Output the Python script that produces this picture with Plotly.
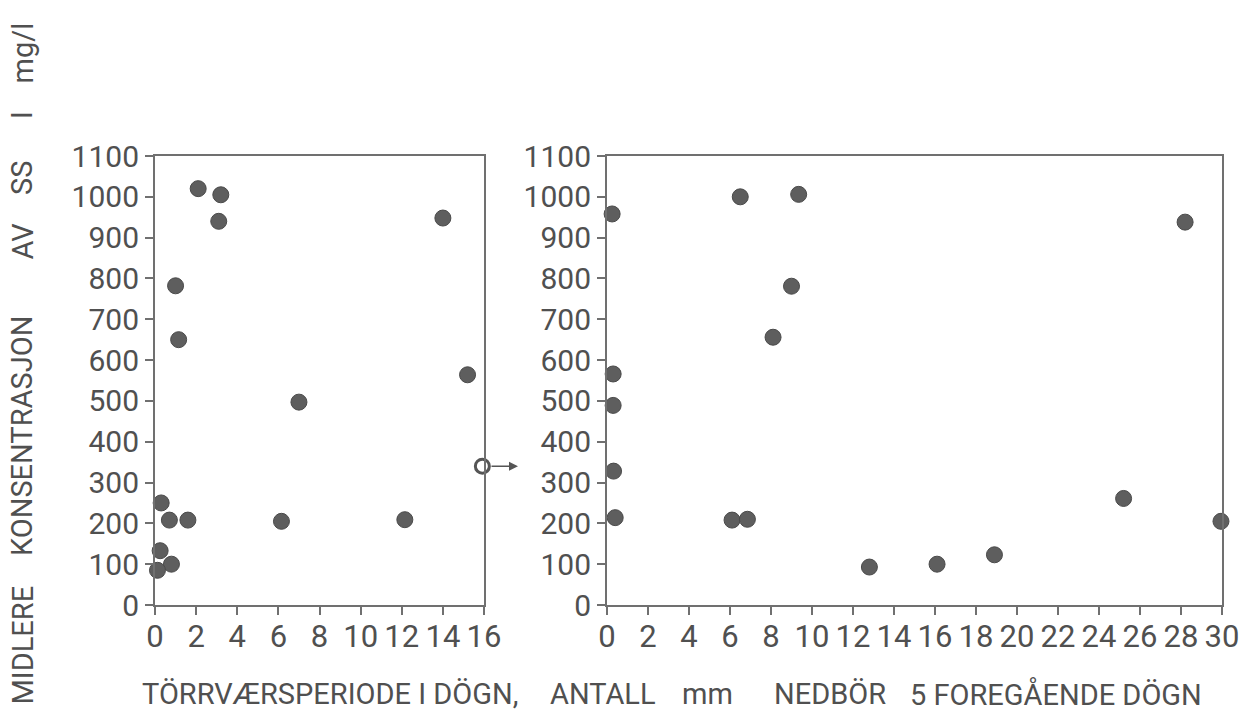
import plotly.graph_objects as go

# Left panel: dry-weather period (days) vs mean SS concentration (mg/l)
dry_days = [2.1, 3.2, 3.1, 14.0, 1.0, 1.15, 7.0, 15.2, 0.3, 0.7, 1.6, 6.15, 12.15, 0.25, 0.8, 0.12]
dry_conc = [1020, 1005, 940, 948, 782, 650, 497, 564, 250, 208, 208, 205, 209, 133, 100, 85]
# point beyond the axis (marked with arrow)
dry_out_days = [15.92]
dry_out_conc = [340]

# Right panel: mm precipitation previous 5 days vs mean SS concentration
rain_mm = [0.25, 6.5, 9.35, 28.2, 9.0, 8.1, 0.3, 0.3, 0.32, 0.4, 6.1, 6.85, 12.8, 16.1, 18.9, 25.2, 29.95]
rain_conc = [958, 1000, 1006, 938, 781, 656, 566, 489, 328, 214, 208, 210, 93, 100, 123, 261, 205]

y_ticks = list(range(0, 1101, 100))
x_left_ticks = list(range(0, 17, 2))
x_right_ticks = list(range(0, 31, 2))

W, H = 1255, 719
TXT = "#505050"
LINE = "#707070"
PT = "#5e5e5e"
YTICKFONT = dict(family="Roboto, sans-serif", size=30, color=TXT)
XTICKFONT = dict(family="Roboto, sans-serif", size=31, color=TXT)
TITLEFONT = dict(family="Roboto, sans-serif", size=29, color=TXT)

def px_x(p):
    return p / W

def px_y(p):
    return (H - p) / H

fig = go.Figure()
marker = dict(size=16, color=PT, line=dict(color="#4a4a4a", width=1))
fig.add_trace(go.Scatter(x=dry_days, y=dry_conc, mode="markers", marker=marker,
                         xaxis="x", yaxis="y", cliponaxis=False, showlegend=False))
fig.add_trace(go.Scatter(x=dry_out_days, y=dry_out_conc, mode="markers",
                         marker=dict(size=14, color="white", line=dict(color="#555555", width=3)),
                         xaxis="x", yaxis="y", cliponaxis=False, showlegend=False))
fig.add_trace(go.Scatter(x=rain_mm, y=rain_conc, mode="markers", marker=marker,
                         xaxis="x2", yaxis="y2", cliponaxis=False, showlegend=False))

common_axis = dict(showline=True, mirror=True, linecolor=LINE, linewidth=2,
                   showgrid=False, zeroline=False, ticks="outside", ticklen=8,
                   tickwidth=2, tickcolor=LINE,
                   automargin=False, tickangle=0)

fig.update_layout(
    width=W, height=H,
    margin=dict(l=0, r=0, t=0, b=0, pad=0),
    paper_bgcolor="white", plot_bgcolor="white",
    xaxis=dict(domain=[px_x(155), px_x(484)], range=[0, 16], tickvals=x_left_ticks,
               anchor="y", tickfont=XTICKFONT, ticklabelstandoff=-5, **common_axis),
    yaxis=dict(domain=[px_y(605), px_y(156)], range=[0, 1100], tickvals=y_ticks,
               anchor="x", tickfont=YTICKFONT, **common_axis),
    xaxis2=dict(domain=[px_x(607), px_x(1222)], range=[0, 30], tickvals=x_right_ticks,
                anchor="y2", tickfont=XTICKFONT, ticklabelstandoff=-5, **common_axis),
    yaxis2=dict(domain=[px_y(605), px_y(156)], range=[0, 1100], tickvals=y_ticks,
                anchor="x2", tickfont=YTICKFONT, **common_axis),
)

annotations = []
# arrow from the open point
annotations.append(dict(x=px_x(518), y=dry_out_conc[0], xref="paper", yref="y",
                        ax=-28, ay=0, axref="pixel", ayref="pixel", text="",
                        showarrow=True, arrowhead=2, arrowsize=1.2, arrowwidth=1.5,
                        arrowcolor="#555555"))

# bottom axis title (pieces)
for txt, xpix in [("TÖRRVÆRSPERIODE I DÖGN,", 140), ("ANTALL", 548), ("mm", 680),
                  ("NEDBÖR", 772), ("5 FOREGÅENDE DÖGN", 908)]:
    annotations.append(dict(x=px_x(xpix), y=px_y(694), xref="paper", yref="paper",
                            text=txt, showarrow=False, xanchor="left", yanchor="middle",
                            font=TITLEFONT))

# left vertical title (pieces, rotated)
for txt, ybottom in [("MIDLERE", 707), ("KONSENTRASJON", 558), ("AV", 262),
                     ("SS", 197), ("I", 121), ("mg/l", 86)]:
    annotations.append(dict(x=px_x(22), y=px_y(ybottom), xref="paper", yref="paper",
                            text=txt, showarrow=False, textangle=-90,
                            xanchor="center", yanchor="bottom", font=TITLEFONT))

fig.update_layout(annotations=annotations)
fig.write_html("out.html", config={"displayModeBar": False},
               post_script="document.body.style.margin='0';document.body.style.overflow='hidden';")
